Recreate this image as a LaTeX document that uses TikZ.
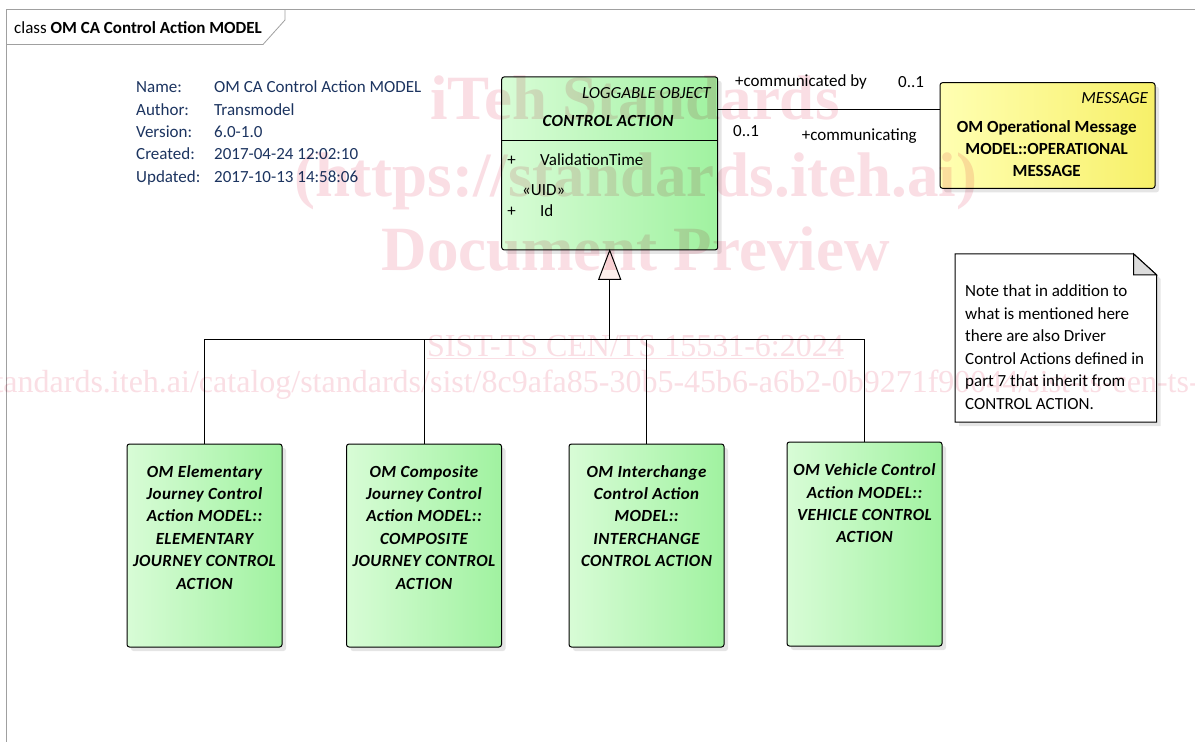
\documentclass[tikz,border=0pt]{standalone}
\usepackage{fontspec}
\setmainfont{Carlito}
\newfontfamily\wmfont{Liberation Serif}
\newfontfamily\bifont[LetterSpace=2.5]{Carlito Bold Italic}
\usetikzlibrary{positioning,shadows}
\definecolor{clsL}{RGB}{216,252,214}
\definecolor{clsR}{RGB}{160,242,160}
\definecolor{msgL}{RGB}{255,255,178}
\definecolor{msgR}{RGB}{247,240,105}
\definecolor{metaC}{RGB}{28,52,96}
\definecolor{frameC}{RGB}{160,160,160}
\definecolor{triC}{RGB}{253,240,236}
\definecolor{foldC}{RGB}{220,220,220}
\definecolor{wmC}{RGB}{250,222,228}
\newcommand\dfont{\fontsize{17}{22.4}\selectfont}

\begin{document}
\begin{tikzpicture}[x=1pt,y=-1pt,
  cls/.style={draw,line width=1pt,rounded corners=2.5pt,left color=clsL,right color=clsR,inner sep=0pt,
    drop shadow={shadow xshift=4pt,shadow yshift=-4pt,opacity=.2}},
  msgbox/.style={cls,left color=msgL,right color=msgR},
  txt/.style={font=\dfont,inner sep=0pt},
  meta/.style={txt,text=metaC,anchor=base west},
  clstext/.style={txt,font=\dfont\bifont,align=center,anchor=north},
  wm/.style={inner sep=0pt,text=wmC}]
\fill[white] (0,0) rectangle (1195,742);
\useasboundingbox (0,0) rectangle (1195,742);

% frame
\draw[frameC,line width=.8pt] (6,742) -- (6,9.5) -- (1195,9.5);
\draw[frameC,line width=.8pt] (6,44.5) -- (263,44.5) -- (285,20) -- (285,9.5);
\node[txt,anchor=base west] (title) at (14,33) {class \textbf{OM CA Control Action MODEL}};

\foreach \lab/\txt [count=\i] in {Name:/OM CA Control Action MODEL,Author:/Transmodel,Version:/6.0-1.0,Created:/2017-04-24 12:02:10,Updated:/2017-10-13 14:58:06}{
  \node[meta] (key\i) at (136,70.2+22.4*\i) {\lab};
  \node[meta] (val\i) at (214,70.2+22.4*\i) {\txt};
}

% control action
\node[cls,minimum width=216pt,minimum height=173pt] (ctrl) at (609.7,163.4) {};
\coordinate (sep) at (0,140.7);
\draw[line width=1pt] (ctrl.west |- sep) -- (ctrl.east |- sep);
\node[txt,font=\dfont\itshape,anchor=base east] (stereo) at (711,98.3) {LOGGABLE OBJECT};
\node[txt,font=\dfont\bifont,anchor=base] (ctrlname) at (608,126) {CONTROL ACTION};
\node[txt,anchor=base] (p1) at (511.5,165) {+};
\node[txt,anchor=base west] (att1) at (540,165) {ValidationTime};
\node[txt,anchor=base west] (uid) at (522,195) {«UID»};
\node[txt,anchor=base] (p2) at (511.5,216.7) {+};
\node[txt,anchor=base west] (att2) at (540,216.7) {Id};

% message
\node[msgbox,minimum width=215pt,minimum height=105.6pt] (msg) at (1047.5,135.5) {};
\node[txt,font=\dfont\itshape,anchor=base east] (msgstereo) at (1148,103.3) {MESSAGE};
\node[txt,font=\dfont\bfseries,align=center,anchor=north] (msgname) at (1046.7,120) {OM Operational Message\\MODEL::OPERATIONAL\\MESSAGE};

\coordinate (assoc) at (800,109.5);
\draw[line width=1pt] (ctrl.east |- assoc) -- (msg.west |- assoc);
\node[txt,anchor=base west] (rolea) at (735,86) {+communicated by};
\node[txt,anchor=base west] (multa) at (898,87.3) {0..1};
\node[txt,anchor=base west] (multb) at (733,136) {0..1};
\node[txt,anchor=base west] (roleb) at (801.7,140) {+communicating};

% subclasses
\node[cls,minimum width=155pt,minimum height=203pt] (c1) at (204.5,545.5) {};
\node[cls,minimum width=155pt,minimum height=203pt] (c2) at (424,545.5) {};
\node[cls,minimum width=155pt,minimum height=203pt] (c3) at (646.5,545.5) {};
\node[cls,minimum width=155pt,minimum height=204pt] (c4) at (864.5,544) {};
\node[clstext] (t1) at (204.5,465) {OM Elementary\\Journey Control\\Action MODEL::\\ELEMENTARY\\JOURNEY CONTROL\\ACTION};
\node[clstext] (t2) at (424,465) {OM Composite\\Journey Control\\Action MODEL::\\COMPOSITE\\JOURNEY CONTROL\\ACTION};
\node[clstext] (t3) at (646.5,465) {OM Interchange\\Control Action\\MODEL::\\INTERCHANGE\\CONTROL ACTION};
\node[clstext] (t4) at (864.5,463.5) {OM Vehicle Control\\Action MODEL::\\VEHICLE CONTROL\\ACTION};

\draw[line width=1pt,fill=triC] (ctrl.south) -- ++(-11,29) -- ++(22,0) -- cycle;
\path (ctrl.south) ++(0,29) coordinate (tribase);
\coordinate (bus) at (609.7,339.5);
\draw[line width=1pt] (tribase) -- (bus);
\foreach \c in {c1,c2,c3,c4}
  \draw[line width=1pt] (\c.north) |- (bus);

% note
\node[minimum width=201pt,minimum height=168pt,inner sep=0pt] (note) at (1055.8,338) {};
\path[draw,line width=1pt,fill=white,drop shadow={shadow xshift=4pt,shadow yshift=-4pt,opacity=.2}]
  (note.north west) -- ([xshift=-23pt]note.north east) -- ([yshift=-21pt]note.north east)
  -- (note.south east) -- (note.south west) -- cycle;
\draw[line width=1pt,fill=foldC] ([xshift=-23pt]note.north east) -- ([xshift=-23pt,yshift=-21pt]note.north east) -- ([yshift=-21pt]note.north east) -- cycle;
\foreach \ln [count=\i] in {Note that in addition to,what is mentioned here,there are also Driver,Control Actions defined in,part 7 that inherit from,CONTROL ACTION.}
  \node[txt,anchor=base west] (n\i) at (965,274+22.5*\i) {\ln};

% watermark
\begin{scope}[blend mode=multiply]
\node[wm,font=\wmfont\bfseries\fontsize{63}{63}\selectfont,anchor=base] (wm1) at (635,119) {iTeh Standards};
\node[wm,font=\wmfont\bfseries\fontsize{63}{63}\selectfont,anchor=base] (wm2) at (636,196.5) {(https://standards.iteh.ai)};
\node[wm,font=\wmfont\bfseries\fontsize{63}{63}\selectfont,anchor=base] (wm3) at (635.5,270) {Document Preview};
\node[wm,font=\wmfont\fontsize{32}{32}\selectfont,anchor=base] (wm4) at (635.5,356) {\underline{SIST-TS CEN/TS 15531-6:2024}};
\node[wm,font=\wmfont\fontsize{32}{32}\selectfont,anchor=base west] (wm5) at (-107,392) {https://standards.iteh.ai/catalog/standards/sist/8c9afa85-30b5-45b6-a6b2-0b9271f90044/sist-ts-cen-ts-15531-6-2024};
\end{scope}
\end{tikzpicture}
\end{document}
